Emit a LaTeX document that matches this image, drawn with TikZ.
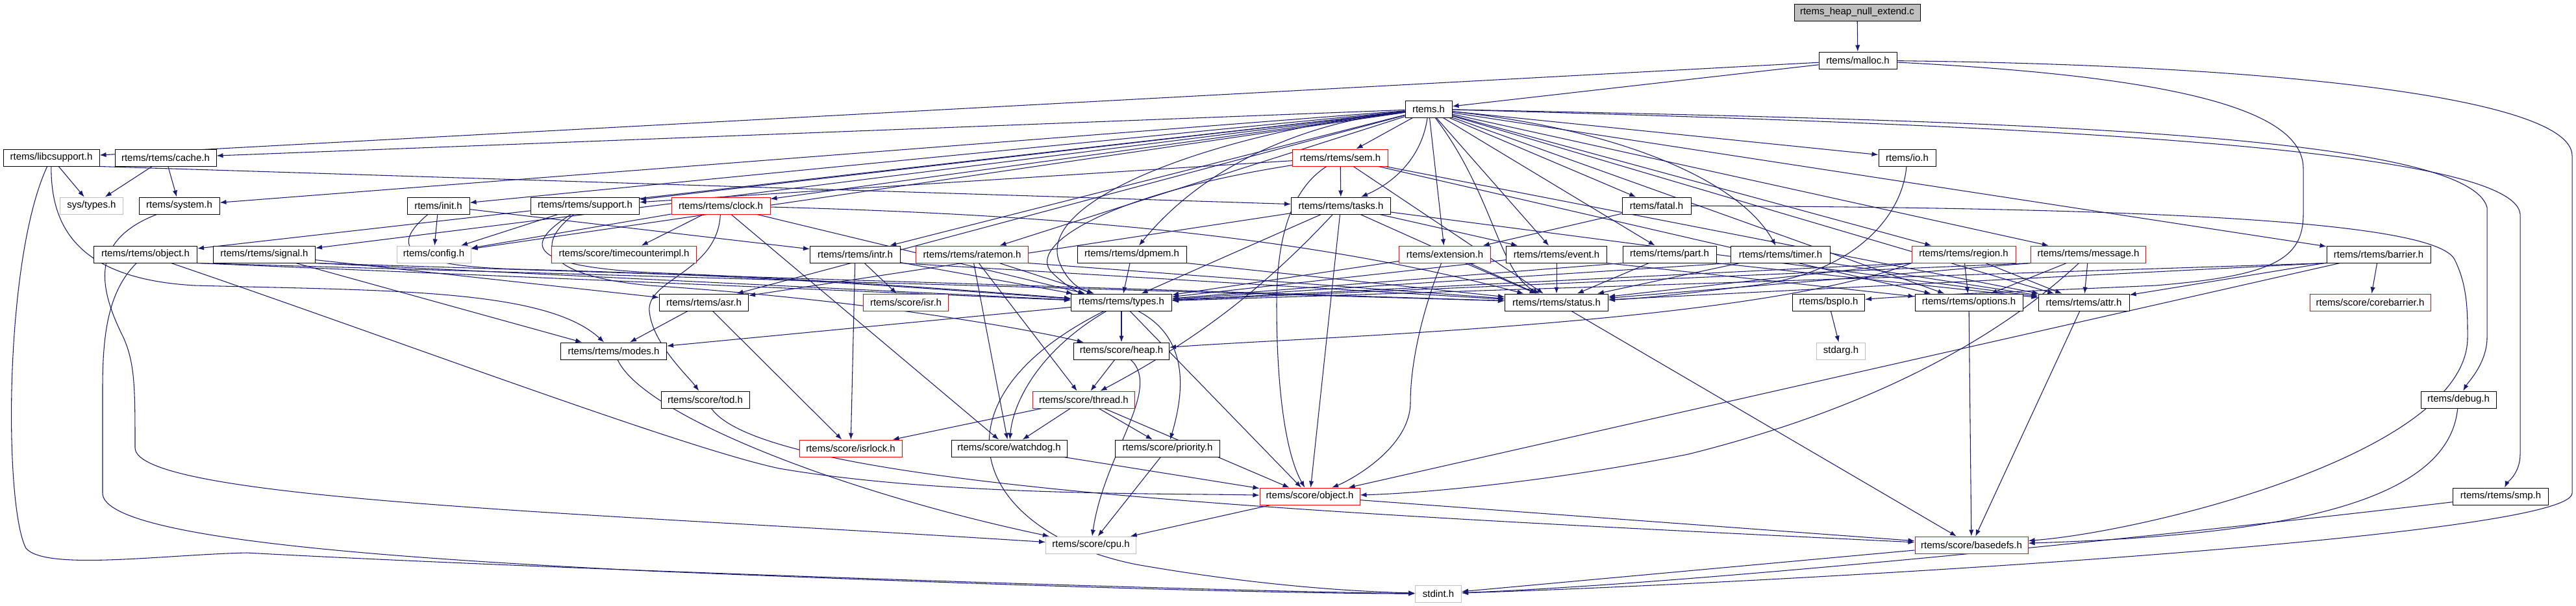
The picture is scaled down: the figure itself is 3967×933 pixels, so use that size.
\documentclass[tikz,border=0pt]{standalone}
\usepackage{fontspec}
\setmainfont{Liberation Sans}
\usepackage{tikz}
\usetikzlibrary{arrows.meta,backgrounds}
\definecolor{edgeblue}{RGB}{25,25,112}
\definecolor{nodered}{RGB}{255,0,0}
\definecolor{nodegray}{RGB}{191,191,191}

\begin{document}
\begin{tikzpicture}[x=0.75pt,y=0.75pt,yscale=-1,xscale=1,
  hdr/.style={draw=black, fill=white, line width=0.75pt, minimum height=19.5pt, inner sep=1pt, font=\fontsize{11.25}{13}\selectfont},
  hdrred/.style={hdr, draw=nodered},
  hdrgray/.style={hdr, draw=nodegray},
  dep/.style={draw=edgeblue, line width=0.8pt, -{Latex[length=7.5pt,width=5.5pt]}}]
%set diagram left start at 0, and has height of 933
\useasboundingbox (0,0) rectangle (3967,933);

%Shape: Rectangle [rank 0 - 2]
\node [hdr, fill=nodegray, minimum width=145.5pt] (root) at (2860,19) {rtems\_heap\_null\_extend.c};
\node [hdr, minimum width=90pt] (malloc) at (2861,93) {rtems/malloc.h};
\node [hdr, minimum width=54pt] (rtems) at (2200,168) {rtems.h};

%Shape: Rectangle [rank 3]
\node [hdr, minimum width=111pt] (libcsupport) at (79,243) {rtems/libcsupport.h};
\node [hdr, minimum width=117pt] (cache) at (255,243) {rtems/rtems/cache.h};
\node [hdrred, minimum width=110.25pt] (sem) at (2064,243) {rtems/rtems/sem.h};
\node [hdr, minimum width=66pt] (io) at (2937,243) {rtems/io.h};

%Shape: Rectangle [rank 4]
\node [hdrgray, minimum width=72.75pt] (systypes) at (141,317) {sys/types.h};
\node [hdr, minimum width=93pt] (system) at (276,317) {rtems/system.h};
\node [hdr, minimum width=72pt] (init) at (675,317) {rtems/init.h};
\node [hdr, minimum width=125.25pt] (support) at (901,317) {rtems/rtems/support.h};
\node [hdrred, minimum width=114pt] (clock) at (1110,317) {rtems/rtems/clock.h};
\node [hdr, minimum width=114.75pt] (tasks) at (2065,317) {rtems/rtems/tasks.h};
\node [hdr, minimum width=79.5pt] (fatal) at (2551,317) {rtems/fatal.h};

%Shape: Rectangle [rank 5]
\node [hdr, minimum width=119.25pt] (robject) at (224,392) {rtems/rtems/object.h};
\node [hdr, minimum width=117.75pt] (signal) at (407,392) {rtems/rtems/signal.h};
\node [hdrgray, minimum width=85.5pt] (config) at (668,392) {rtems/config.h};
\node [hdrred, minimum width=167.25pt] (timecounter) at (961,392) {rtems/score/timecounterimpl.h};
\node [hdr, minimum width=104.25pt] (intr) at (1317,392) {rtems/rtems/intr.h};
\node [hdrred, minimum width=129.75pt] (ratemon) at (1497,392) {rtems/rtems/ratemon.h};
\node [hdr, minimum width=126pt] (dpmem) at (1743,392) {rtems/rtems/dpmem.h};
\node [hdrred, minimum width=105.75pt] (extension) at (2225,392) {rtems/extension.h};
\node [hdr, minimum width=116.25pt] (event) at (2397,392) {rtems/rtems/event.h};
\node [hdr, minimum width=108pt] (part) at (2571,392) {rtems/rtems/part.h};
\node [hdr, minimum width=114.75pt] (timer) at (2742,392) {rtems/rtems/timer.h};
\node [hdrred, minimum width=120pt] (region) at (3024,392) {rtems/rtems/region.h};
\node [hdrred, minimum width=132.75pt] (message) at (3216,392) {rtems/rtems/message.h};
\node [hdr, minimum width=120pt] (barrier) at (3663,392) {rtems/rtems/barrier.h};

%Shape: Rectangle [rank 6]
\node [hdr, minimum width=102.75pt] (asr) at (1084,466) {rtems/rtems/asr.h};
\node [hdrred, minimum width=98.25pt] (isr) at (1395,466) {rtems/score/isr.h};
\node [hdr, minimum width=116.25pt] (types) at (1727,466) {rtems/rtems/types.h};
\node [hdr, minimum width=119.25pt] (status) at (2397,466) {rtems/rtems/status.h};
\node [hdr, minimum width=83.25pt] (bspio) at (2816,466) {rtems/bspIo.h};
\node [hdr, minimum width=124.5pt] (options) at (3032,466) {rtems/rtems/options.h};
\node [hdr, minimum width=105pt] (attr) at (3209,466) {rtems/rtems/attr.h};
\node [hdrred, minimum width=139.5pt] (corebarrier) at (3650,466) {rtems/score/corebarrier.h};

%Shape: Rectangle [rank 7 - 12]
\node [hdr, minimum width=122.25pt] (modes) at (945,541) {rtems/rtems/modes.h};
\node [hdr, minimum width=110.25pt] (heap) at (1727,541) {rtems/score/heap.h};
\node [hdrgray, minimum width=56.25pt] (stdarg) at (2835,541) {stdarg.h};
\node [hdr, minimum width=102pt] (tod) at (1086,616) {rtems/score/tod.h};
\node [hdrred, minimum width=117.75pt] (thread) at (1669,616) {rtems/score/thread.h};
\node [hdr, minimum width=87pt] (debug) at (3786,616) {rtems/debug.h};
\node [hdrred, minimum width=118.5pt] (isrlock) at (1310,691) {rtems/score/isrlock.h};
\node [hdr, minimum width=133.5pt] (watchdog) at (1554,691) {rtems/score/watchdog.h};
\node [hdr, minimum width=120.75pt] (priority) at (1798,691) {rtems/score/priority.h};
\node [hdrred, minimum width=115.5pt] (sobject) at (2017,765) {rtems/score/object.h};
\node [hdr, minimum width=110.25pt] (smp) at (3851,765) {rtems/rtems/smp.h};
\node [hdrgray, minimum width=104.25pt] (cpu) at (1680,840) {rtems/score/cpu.h};
\node [hdrred, minimum width=130.5pt] (basedefs) at (3036,840) {rtems/score/basedefs.h};
\node [hdrgray, minimum width=53.25pt] (stdint) at (2215,915) {stdint.h};

\begin{scope}[on background layer]
% Connector: rtems_heap_null_extend.c, rtems/malloc.h
\draw [dep] (root) -- (malloc);
\draw [dep] (malloc) -- (rtems);
\draw [dep] (malloc) -- (libcsupport);
\draw [dep] (malloc) .. controls (3400,120) and (3547,180) .. (3547,260) -- (3547,330) .. controls (3547,400) and (3500,425) .. (3320,440) .. controls (3100,450) and (2950,455) .. (bspio);
\draw [dep] (malloc) .. controls (3500,100) and (3961,150) .. (3961,240) -- (3961,760) .. controls (3961,830) and (2700,900) .. (stdint);

% Connector: rtems.h
\draw [dep] (rtems) -- (cache);
\draw [dep] (rtems) -- (system);
\draw [dep] (rtems) -- (robject);
\draw [dep] (rtems) -- (signal);
\draw [dep] (rtems) -- (init);
\draw [dep] (rtems) -- (config);
\draw [dep] (rtems) -- (support);
\draw [dep] (rtems) -- (clock);
\draw [dep] (rtems) -- (intr);
\draw [dep] (rtems) -- (ratemon);
\draw [dep] (rtems) -- (asr);
\draw [dep] (rtems) -- (sem);
\draw [dep] (rtems) .. controls (2190,240) and (2150,280) .. (tasks);
\draw [dep] (rtems) .. controls (2000,190) and (1850,260) .. (dpmem);
\draw [dep] (rtems) .. controls (1900,200) and (1600,300) .. (1630,400) .. controls (1640,430) and (1660,445) .. (types);
\draw [dep] (rtems) -- (extension);
\draw [dep] (rtems) -- (event);
\draw [dep] (rtems) .. controls (2300,300) and (2308,420) .. (status);
\draw [dep] (rtems) -- (fatal);
\draw [dep] (rtems) -- (part);
\draw [dep] (rtems) .. controls (2500,200) and (2680,280) .. (timer);
\draw [dep] (rtems) -- (io);
\draw [dep] (rtems) -- (region);
\draw [dep] (rtems) -- (message);
\draw [dep] (rtems) -- (barrier);
\draw [dep] (rtems) -- (options);
\draw [dep] (rtems) -- (attr);
\draw [dep] (rtems) .. controls (3000,185) and (3800,200) .. (3830,320) -- (3830,520) .. controls (3830,560) and (3800,590) .. (debug);
\draw [dep] (rtems) .. controls (3000,190) and (3870,220) .. (3881,330) -- (3881,700) .. controls (3881,730) and (3860,745) .. (smp);

% Connector: rank 3
\draw [dep] (libcsupport) -- (systypes);
\draw [dep] (libcsupport.south east) -- (tasks);
\draw [dep] (libcsupport) .. controls (78,350) and (120,430) .. (300,440) .. controls (600,448) and (840,445) .. (modes);
\draw [dep] (libcsupport) .. controls (6,400) and (6,780) .. (40,845) .. controls (70,880) and (250,855) .. (380,852) .. controls (900,880) and (1900,912) .. (stdint);
\draw [dep] (cache) -- (systypes);
\draw [dep] (cache) -- (system);
\draw [dep] (sem) -- (support);
\draw [dep] (sem) -- (tasks);
\draw [dep] (sem) .. controls (1700,300) and (1580,380) .. (1620,420) .. controls (1640,440) and (1660,450) .. (types);
\draw [dep] (sem) .. controls (1975,300) and (1966,400) .. (1966,470) .. controls (1966,600) and (1980,700) .. (sobject);
\draw [dep] (sem) -- (status);
\draw [dep] (sem) -- (options);
\draw [dep] (sem) -- (attr);
\draw [dep] (io) .. controls (2930,330) and (2860,420) .. (2700,440) .. controls (2600,452) and (2530,460) .. (status);

% Connector: rank 4
\draw [dep] (system) .. controls (140,370) and (150,440) .. (190,520) .. controls (208,560) and (208,600) .. (208,690) .. controls (208,770) and (900,790) .. (cpu);
\draw [dep] (init) -- (config);
\draw [dep] (init) -- (intr);
\draw [dep] (init) .. controls (600,380) and (620,410) .. (800,415) .. controls (1200,425) and (1500,450) .. (types);
\draw [dep] (support) -- (config);
\draw [dep] (support) .. controls (800,380) and (820,410) .. (1000,420) .. controls (1300,432) and (1550,452) .. (types);
\draw [dep] (support) .. controls (820,380) and (840,425) .. (1000,440) .. controls (1300,460) and (1550,500) .. (heap);
\draw [dep] (clock) -- (config);
\draw [dep] (clock) -- (timecounter);
\draw [dep] (clock) .. controls (1105,420) and (995,430) .. (1000,480) .. controls (1005,530) and (1060,580) .. (tod);
\draw [dep] (clock) -- (watchdog);
\draw [dep] (clock) -- (types);
\draw [dep] (clock) .. controls (1600,330) and (2000,360) .. (status);
\draw [dep] (tasks) -- (types);
\draw [dep] (tasks) .. controls (1950,440) and (1850,520) .. (thread);
\draw [dep] (tasks) -- (sobject);
\draw [dep] (tasks) -- (status);
\draw [dep] (tasks) -- (attr);
\draw [dep] (tasks) -- (asr);
\draw [dep] (tasks) -- (event);
\draw [dep] (fatal) -- (extension);
\draw [dep] (fatal) .. controls (3300,320) and (3750,340) .. (3780,400) .. controls (3800,440) and (3800,480) .. (3800,520) .. controls (3800,700) and (3300,820) .. (basedefs);

% Connector: rank 5
\draw [dep] (robject.south east) -- (types);
\draw [dep] (robject.south east) -- (status);
\draw [dep] (robject) .. controls (600,520) and (1050,690) .. (1200,722) .. controls (1450,765) and (1800,760) .. (sobject);
\draw [dep] (robject) .. controls (165,450) and (158,520) .. (158,600) -- (158,760) .. controls (158,830) and (600,860) .. (1000,880) .. controls (1600,905) and (2000,915) .. (stdint);
\draw [dep] (signal) -- (asr);
\draw [dep] (signal) -- (modes);
\draw [dep] (signal.south east) -- (types);
\draw [dep] (signal.south east) -- (status);
\draw [dep] (intr) -- (isr);
\draw [dep] (intr) -- (isrlock);
\draw [dep] (intr) -- (types);
\draw [dep] (intr.south east) -- (status);
\draw [dep] (ratemon) -- (types);
\draw [dep] (ratemon.south east) -- (status);
\draw [dep] (ratemon) -- (thread);
\draw [dep] (ratemon) -- (watchdog);
\draw [dep] (dpmem) -- (types);
\draw [dep] (dpmem.south east) -- (status);
\draw [dep] (extension) -- (types);
\draw [dep] (extension) -- (status);
\draw [dep] (extension) .. controls (2190,480) and (2172,560) .. (2172,620) .. controls (2172,690) and (2080,740) .. (sobject);
\draw [dep] (event) -- (types);
\draw [dep] (event) -- (status);
\draw [dep] (event.south east) -- (options);
\draw [dep] (part.south west) -- (types);
\draw [dep] (part) -- (status);
\draw [dep] (part.south east) -- (attr);
\draw [dep] (timer.south west) -- (types);
\draw [dep] (timer) -- (status);
\draw [dep] (timer.south east) -- (attr);
\draw [dep] (region) -- (options);
\draw [dep] (region) -- (attr);
\draw [dep] (region.south west) -- (types);
\draw [dep] (region.south west) -- (status);
\draw [dep] (region.south west) .. controls (2700,500) and (2000,520) .. (heap);
\draw [dep] (message) -- (options);
\draw [dep] (message) -- (attr);
\draw [dep] (message.south west) -- (types);
\draw [dep] (message.south west) -- (status);
\draw [dep] (message) .. controls (3100,500) and (2920,620) .. (2600,700) .. controls (2400,740) and (2200,760) .. (sobject);
\draw [dep] (barrier) -- (attr);
\draw [dep] (barrier.south west) -- (status);
\draw [dep] (barrier.south west) -- (types);
\draw [dep] (barrier) -- (sobject);
\draw [dep] (barrier) -- (corebarrier);

% Connector: rank 6
\draw [dep] (asr) -- (modes);
\draw [dep] (asr) -- (isrlock);
\draw [dep] (types) -- (modes);
\draw [dep] (types) -- (heap);
\draw [dep] (types) .. controls (1600,540) and (1560,620) .. (watchdog);
\draw [dep] (types) .. controls (1830,520) and (1825,600) .. (priority);
\draw [dep] (types) -- (sobject);
\draw [dep] (types) .. controls (1420,620) and (1500,820) .. (1750,870) .. controls (1950,905) and (2100,912) .. (stdint);
\draw [dep] (status) -- (basedefs);
\draw [dep] (bspio) -- (stdarg);
\draw [dep] (options) -- (basedefs);
\draw [dep] (attr) -- (basedefs);

% Connector: rank 7 - 11
\draw [dep] (modes) .. controls (990,640) and (1300,760) .. (cpu);
\draw [dep] (heap) -- (thread);
\draw [dep] (heap) .. controls (1790,600) and (1700,700) .. (cpu);
\draw [dep] (tod) .. controls (1180,750) and (2000,790) .. (basedefs);
\draw [dep] (thread) -- (isrlock);
\draw [dep] (thread) -- (watchdog);
\draw [dep] (thread) -- (priority);
\draw [dep] (thread) -- (sobject);
\draw [dep] (debug) .. controls (3770,780) and (3500,825) .. (basedefs);
\draw [dep] (watchdog) -- (sobject);
\draw [dep] (priority) -- (cpu);
\draw [dep] (sobject) -- (basedefs);
\draw [dep] (sobject) -- (cpu);
\draw [dep] (smp) .. controls (3300,830) and (2600,900) .. (stdint);
\draw [dep] (basedefs) -- (stdint);
\end{scope}

\end{tikzpicture}
\end{document}
